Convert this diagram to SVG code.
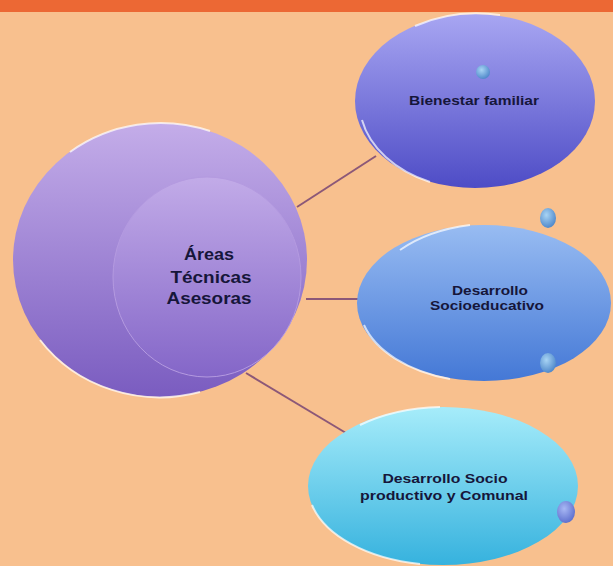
<svg xmlns="http://www.w3.org/2000/svg" width="613" height="566" viewBox="0 0 613 566">
<defs>
<linearGradient id="gMain" x1="0" y1="0" x2="0" y2="1">
<stop offset="0" stop-color="#C4ADE9"/><stop offset="1" stop-color="#7A5CC0"/>
</linearGradient>
<linearGradient id="gInner" x1="0" y1="0" x2="0" y2="1">
<stop offset="0" stop-color="#C2ABE8"/><stop offset="1" stop-color="#8466C8"/>
</linearGradient>
<linearGradient id="gBien" x1="0" y1="0" x2="0" y2="1">
<stop offset="0" stop-color="#A8A6F2"/><stop offset="1" stop-color="#4E4CC6"/>
</linearGradient>
<linearGradient id="gSocio" x1="0" y1="0" x2="0" y2="1">
<stop offset="0" stop-color="#98BCF2"/><stop offset="1" stop-color="#4478D6"/>
</linearGradient>
<linearGradient id="gProd" x1="0" y1="0" x2="0" y2="1">
<stop offset="0" stop-color="#A6ECFA"/><stop offset="1" stop-color="#36B2DE"/>
</linearGradient>
<radialGradient id="gDot" cx="0.4" cy="0.35" r="0.7">
<stop offset="0" stop-color="#A8D4F4"/><stop offset="1" stop-color="#4A84C8"/>
</radialGradient>
<radialGradient id="gDot2" cx="0.4" cy="0.35" r="0.7">
<stop offset="0" stop-color="#A8B8F4"/><stop offset="1" stop-color="#5A6CCC"/>
</radialGradient>
</defs>
<style>
.conn{stroke:#8C5878;stroke-width:2;fill:none}
.rim{fill:none;stroke:#FFFFFF;stroke-opacity:0.7;stroke-width:2}
.lbl{font-family:"Liberation Sans",Arial,sans-serif;font-weight:bold;fill:#16163A;text-anchor:middle}
</style>
<rect x="0" y="0" width="613" height="566" fill="#F8C08E"/>
<rect x="0" y="0" width="613" height="12" fill="#EC6834"/>
<g id="connectors">
<line class="conn" x1="297" y1="207" x2="376" y2="156"/>
<line class="conn" x1="306" y1="299" x2="360" y2="299"/>
<line class="conn" x1="246" y1="373" x2="346" y2="433"/>
</g>
<g id="main">
<ellipse cx="160" cy="260" rx="147" ry="137" fill="url(#gMain)"/>
<path class="rim" d="M40 340 A147 137 0 0 0 200 392"/>
<path class="rim" d="M70 152 A147 137 0 0 1 210 131" stroke-opacity="0.4"/>
<ellipse cx="207" cy="277" rx="94" ry="100" fill="url(#gInner)" stroke="#B49AE0" stroke-width="1"/>
<text class="lbl" font-size="17" x="209" y="260" textLength="50" lengthAdjust="spacingAndGlyphs">Áreas</text>
<text class="lbl" font-size="17" x="211" y="283" textLength="81" lengthAdjust="spacingAndGlyphs">Técnicas</text>
<text class="lbl" font-size="17" x="209" y="304" textLength="85" lengthAdjust="spacingAndGlyphs">Asesoras</text>
</g>
<g id="bienestar">
<ellipse cx="475" cy="101" rx="120" ry="87" fill="url(#gBien)"/>
<path class="rim" d="M362 120 A120 87 0 0 0 430 182"/>
<path class="rim" d="M415 26 A120 87 0 0 1 500 15" stroke-opacity="0.8"/>
<circle cx="483" cy="72" r="7" fill="url(#gDot)"/>
<text class="lbl" font-size="13" x="474" y="105" textLength="130" lengthAdjust="spacingAndGlyphs">Bienestar familiar</text>
</g>
<g id="socioeducativo">
<ellipse cx="484" cy="303" rx="127" ry="78" fill="url(#gSocio)"/>
<path class="rim" d="M364 325 A127 78 0 0 0 450 379"/>
<path class="rim" d="M400 250 A127 78 0 0 1 470 225" stroke-opacity="0.8"/>
<ellipse cx="548" cy="218" rx="8" ry="10" fill="url(#gDot)"/>
<ellipse cx="548" cy="363" rx="8" ry="10" fill="url(#gDot)"/>
<text class="lbl" font-size="13" x="490" y="295" textLength="76" lengthAdjust="spacingAndGlyphs">Desarrollo</text>
<text class="lbl" font-size="13" x="487" y="310" textLength="114" lengthAdjust="spacingAndGlyphs">Socioeducativo</text>
</g>
<g id="socioproductivo">
<ellipse cx="443" cy="486" rx="135" ry="79" fill="url(#gProd)"/>
<path class="rim" d="M312 505 A135 79 0 0 0 420 564"/>
<path class="rim" d="M360 425 A135 79 0 0 1 440 407" stroke-opacity="0.8"/>
<ellipse cx="566" cy="512" rx="9" ry="11" fill="url(#gDot2)"/>
<text class="lbl" font-size="13" x="445" y="483" textLength="125" lengthAdjust="spacingAndGlyphs">Desarrollo  Socio</text>
<text class="lbl" font-size="13" x="444" y="500" textLength="168" lengthAdjust="spacingAndGlyphs">productivo y Comunal</text>
</g>
</svg>
